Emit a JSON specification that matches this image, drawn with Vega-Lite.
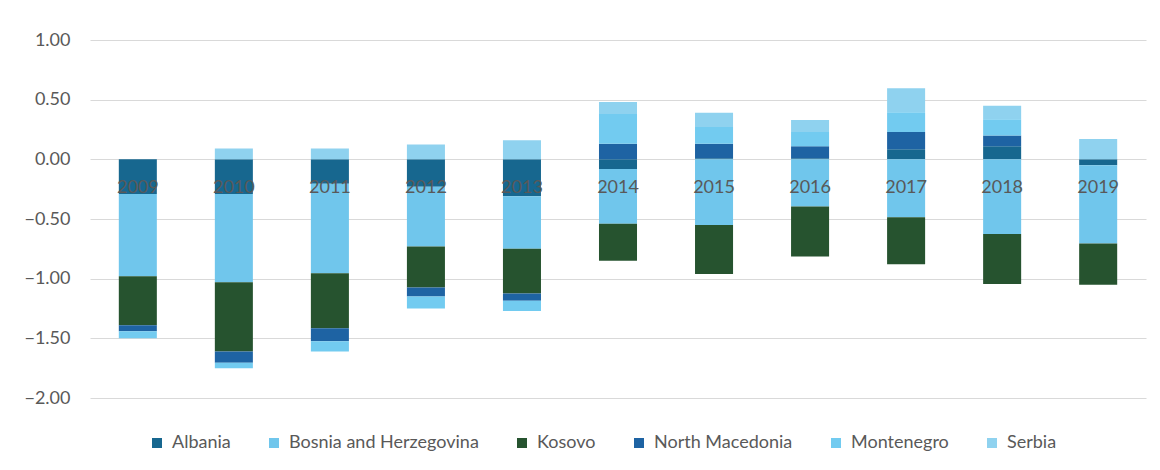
{
  "$schema": "https://vega.github.io/schema/vega-lite/v6.json",
  "width": 1056,
  "height": 358,
  "autosize": {"type": "none"},
  "padding": {"left": 90, "top": 40, "right": 14, "bottom": 72},
  "background": "white",
  "data": {
    "values": [
      {"year": "2009", "country": "Albania", "k": 1, "value": -0.29},
      {"year": "2009", "country": "Bosnia and Herzegovina", "k": 2, "value": -0.69},
      {"year": "2009", "country": "Kosovo", "k": 3, "value": -0.41},
      {"year": "2009", "country": "North Macedonia", "k": 4, "value": -0.05},
      {"year": "2009", "country": "Montenegro", "k": 5, "value": -0.06},

      {"year": "2010", "country": "Albania", "k": 1, "value": -0.29},
      {"year": "2010", "country": "Bosnia and Herzegovina", "k": 2, "value": -0.74},
      {"year": "2010", "country": "Kosovo", "k": 3, "value": -0.58},
      {"year": "2010", "country": "North Macedonia", "k": 4, "value": -0.095},
      {"year": "2010", "country": "Montenegro", "k": 5, "value": -0.045},
      {"year": "2010", "country": "Serbia", "k": 6, "value": 0.09},

      {"year": "2011", "country": "Albania", "k": 1, "value": -0.205},
      {"year": "2011", "country": "Bosnia and Herzegovina", "k": 2, "value": -0.75},
      {"year": "2011", "country": "Kosovo", "k": 3, "value": -0.46},
      {"year": "2011", "country": "North Macedonia", "k": 4, "value": -0.11},
      {"year": "2011", "country": "Montenegro", "k": 5, "value": -0.085},
      {"year": "2011", "country": "Serbia", "k": 6, "value": 0.09},

      {"year": "2012", "country": "Albania", "k": 1, "value": -0.23},
      {"year": "2012", "country": "Bosnia and Herzegovina", "k": 2, "value": -0.5},
      {"year": "2012", "country": "Kosovo", "k": 3, "value": -0.345},
      {"year": "2012", "country": "North Macedonia", "k": 4, "value": -0.075},
      {"year": "2012", "country": "Montenegro", "k": 5, "value": -0.1},
      {"year": "2012", "country": "Serbia", "k": 6, "value": 0.125},

      {"year": "2013", "country": "Albania", "k": 1, "value": -0.31},
      {"year": "2013", "country": "Bosnia and Herzegovina", "k": 2, "value": -0.44},
      {"year": "2013", "country": "Kosovo", "k": 3, "value": -0.375},
      {"year": "2013", "country": "North Macedonia", "k": 4, "value": -0.06},
      {"year": "2013", "country": "Montenegro", "k": 5, "value": -0.085},
      {"year": "2013", "country": "Serbia", "k": 6, "value": 0.16},

      {"year": "2014", "country": "Albania", "k": 1, "value": -0.08},
      {"year": "2014", "country": "Bosnia and Herzegovina", "k": 2, "value": -0.46},
      {"year": "2014", "country": "Kosovo", "k": 3, "value": -0.31},
      {"year": "2014", "country": "North Macedonia", "k": 4, "value": 0.13},
      {"year": "2014", "country": "Montenegro", "k": 5, "value": 0.25},
      {"year": "2014", "country": "Serbia", "k": 6, "value": 0.1},

      {"year": "2015", "country": "Albania", "k": 1, "value": 0.01},
      {"year": "2015", "country": "Bosnia and Herzegovina", "k": 2, "value": -0.55},
      {"year": "2015", "country": "Kosovo", "k": 3, "value": -0.41},
      {"year": "2015", "country": "North Macedonia", "k": 4, "value": 0.12},
      {"year": "2015", "country": "Montenegro", "k": 5, "value": 0.14},
      {"year": "2015", "country": "Serbia", "k": 6, "value": 0.12},

      {"year": "2016", "country": "Albania", "k": 1, "value": 0.01},
      {"year": "2016", "country": "Bosnia and Herzegovina", "k": 2, "value": -0.395},
      {"year": "2016", "country": "Kosovo", "k": 3, "value": -0.42},
      {"year": "2016", "country": "North Macedonia", "k": 4, "value": 0.1},
      {"year": "2016", "country": "Montenegro", "k": 5, "value": 0.12},
      {"year": "2016", "country": "Serbia", "k": 6, "value": 0.1},

      {"year": "2017", "country": "Albania", "k": 1, "value": 0.085},
      {"year": "2017", "country": "Bosnia and Herzegovina", "k": 2, "value": -0.485},
      {"year": "2017", "country": "Kosovo", "k": 3, "value": -0.395},
      {"year": "2017", "country": "North Macedonia", "k": 4, "value": 0.145},
      {"year": "2017", "country": "Montenegro", "k": 5, "value": 0.165},
      {"year": "2017", "country": "Serbia", "k": 6, "value": 0.2},

      {"year": "2018", "country": "Albania", "k": 1, "value": 0.11},
      {"year": "2018", "country": "Bosnia and Herzegovina", "k": 2, "value": -0.625},
      {"year": "2018", "country": "Kosovo", "k": 3, "value": -0.42},
      {"year": "2018", "country": "North Macedonia", "k": 4, "value": 0.09},
      {"year": "2018", "country": "Montenegro", "k": 5, "value": 0.135},
      {"year": "2018", "country": "Serbia", "k": 6, "value": 0.115},

      {"year": "2019", "country": "Albania", "k": 1, "value": -0.05},
      {"year": "2019", "country": "Bosnia and Herzegovina", "k": 2, "value": -0.655},
      {"year": "2019", "country": "Kosovo", "k": 3, "value": -0.345},
      {"year": "2019", "country": "Serbia", "k": 6, "value": 0.17}
    ]
  },
  "mark": {"type": "bar"},
  "encoding": {
    "x": {
      "field": "year",
      "type": "ordinal",
      "scale": {"paddingInner": 0.604, "paddingOuter": 0.3},
      "axis": {
        "orient": "bottom",
        "offset": -239,
        "domain": false,
        "ticks": false,
        "labelAngle": 0,
        "labelPadding": 19,
        "labelFontSize": 18,
        "labelColor": "#595959",
        "title": null,
        "zindex": 1
      }
    },
    "y": {
      "field": "value",
      "type": "quantitative",
      "stack": "zero",
      "scale": {"domain": [-2, 1], "nice": false, "zero": false},
      "axis": {
        "values": [-2, -1.5, -1, -0.5, 0, 0.5, 1],
        "format": ".2f",
        "domain": false,
        "ticks": false,
        "labelPadding": 20,
        "labelFontSize": 18,
        "labelColor": "#595959",
        "gridColor": "#d9d9d9",
        "gridWidth": 1,
        "title": null
      }
    },
    "color": {
      "field": "country",
      "type": "nominal",
      "scale": {
        "domain": ["Albania", "Bosnia and Herzegovina", "Kosovo", "North Macedonia", "Montenegro", "Serbia"],
        "range": ["#17678f", "#70c6ec", "#26532f", "#1e63a3", "#72cbf0", "#8fd2ef"]
      },
      "legend": {
        "orient": "none",
        "direction": "horizontal",
        "legendX": 58,
        "legendY": 394,
        "title": null,
        "symbolType": "square",
        "symbolSize": 100,
        "symbolStrokeWidth": 0,
        "labelFontSize": 18,
        "labelLimit": 0,
        "labelColor": "#595959",
        "labelOffset": 6,
        "columnPadding": 34
      }
    },
    "order": {"field": "k", "type": "quantitative"}
  },
  "config": {"view": {"stroke": null}, "font": "Lato"}
}
